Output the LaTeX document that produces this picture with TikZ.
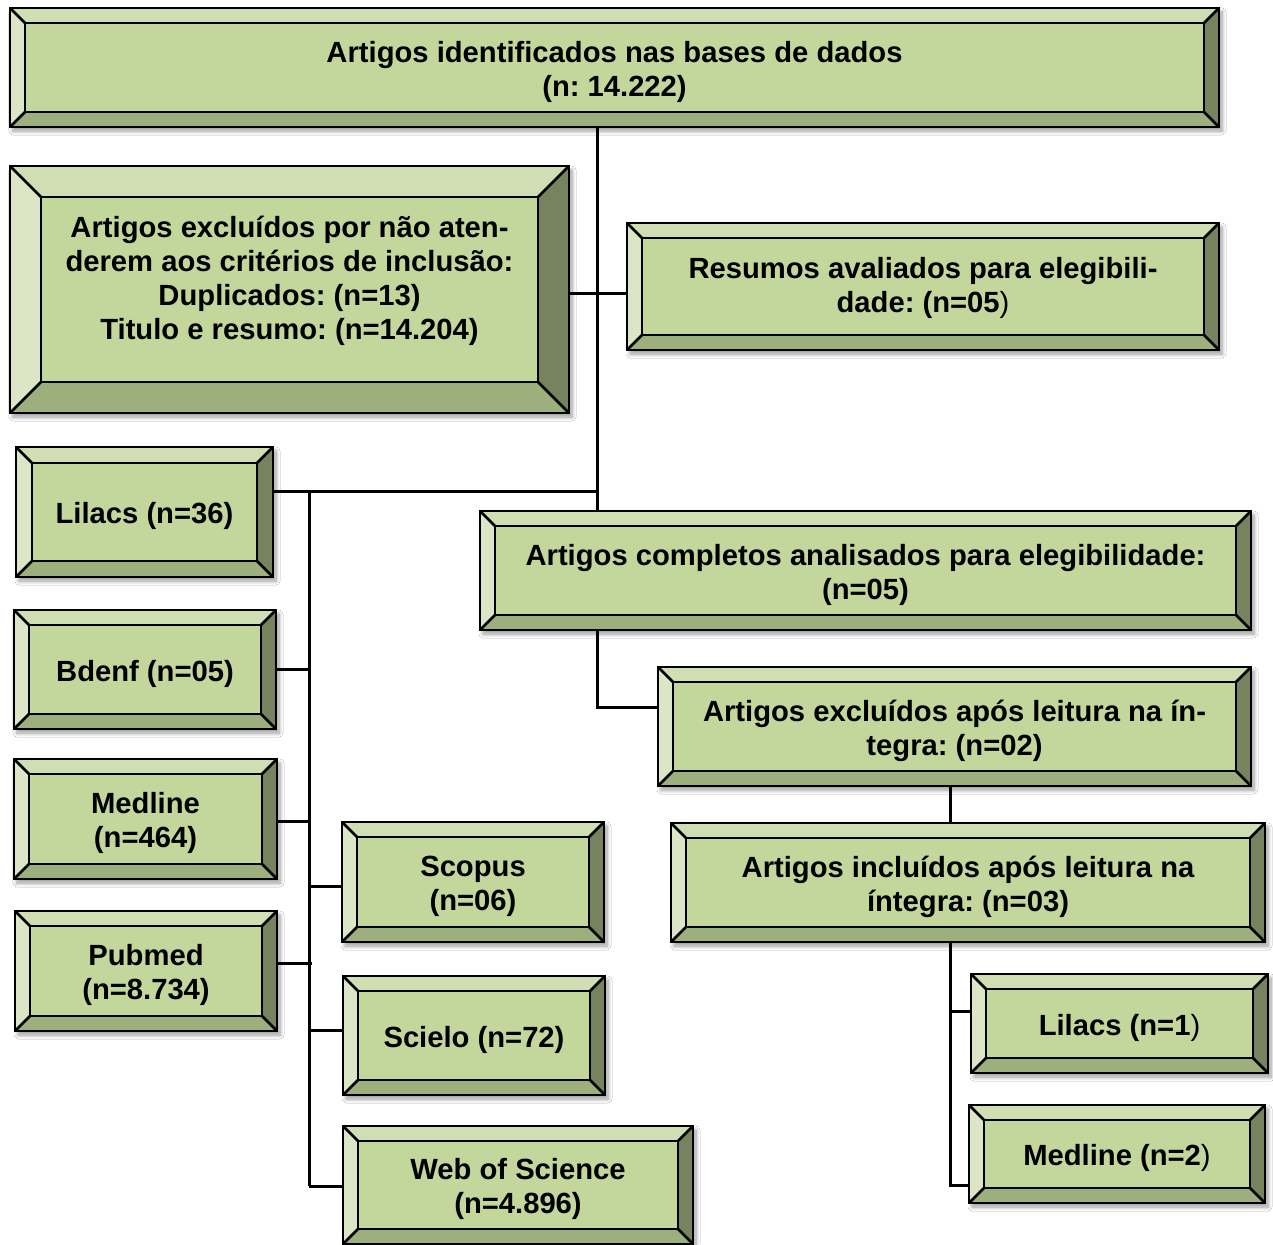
\documentclass[tikz,border=0pt]{standalone}
\usepackage{fontspec}
\setmainfont{Liberation Sans}
\usetikzlibrary{shadows.blur}
\definecolor{bvcenter}{HTML}{C3D69B}
\definecolor{bvtop}{HTML}{D0DFB3}
\definecolor{bvleft}{HTML}{DCE6C6}
\definecolor{bvbottom}{HTML}{9DAF7D}
\definecolor{bvright}{HTML}{76835E}
\tikzset{
  bvline/.style={draw=black, line width=2.6pt, line join=miter},
  boxnode/.style={inner sep=0pt, outer sep=0pt, rectangle},
  boxtext/.style={inner sep=0pt, align=center, yshift=-4pt, font=\fontsize{29.2}{34}\selectfont\bfseries\frenchspacing},
  conn/.style={draw=black, line width=3pt},
  shadowed/.style={blur shadow={shadow xshift=3pt, shadow yshift=-4pt, shadow blur radius=4pt, shadow blur steps=8, shadow opacity=40}}
}
% #1 text options, #2 name, #3 x1, #4 y1, #5 x2, #6 y2, #7 bevel, #8 text
\newcommand\bevbox[8][]{%
  \fill[white, shadowed] (#3,#4) rectangle (#5,#6);
  \fill[bvtop] (#3,#4) -- (#5,#4) -- (#5-#7,#4+#7) -- (#3+#7,#4+#7) -- cycle;
  \fill[bvbottom] (#3,#6) -- (#5,#6) -- (#5-#7,#6-#7) -- (#3+#7,#6-#7) -- cycle;
  \fill[bvleft] (#3,#4) -- (#3+#7,#4+#7) -- (#3+#7,#6-#7) -- (#3,#6) -- cycle;
  \fill[bvright] (#5,#4) -- (#5-#7,#4+#7) -- (#5-#7,#6-#7) -- (#5,#6) -- cycle;
  \fill[bvcenter] (#3+#7,#4+#7) rectangle (#5-#7,#6-#7);
  \draw[bvline] (#3,#4) -- (#3+#7,#4+#7) (#5,#4) -- (#5-#7,#4+#7)
     (#3,#6) -- (#3+#7,#6-#7) (#5,#6) -- (#5-#7,#6-#7);
  \draw[bvline] (#3+#7,#4+#7) rectangle (#5-#7,#6-#7);
  \draw[bvline] (#3,#4) rectangle (#5,#6);
  \node[boxnode, minimum width={#5pt-#3pt}, minimum height={#6pt-#4pt}] (#2) at ({(#3+#5)/2},{(#4+#6)/2}) {};
  \node[boxtext,#1] (#2-t) at (#2) {#8};
}
\begin{document}
\begin{tikzpicture}[x=1pt,y=-1pt]
\useasboundingbox (0,0) rectangle (1273,1244);
\fill[white] (0,0) rectangle (1273,1244);

\coordinate (v1) at (597,127);
\coordinate (bus) at (309,491);
\coordinate (v2) at (950,0);

\bevbox{top}{10}{8}{1219}{127}{15}{Artigos identificados nas bases de dados\\(n: 14.222)}
\bevbox[yshift=13pt]{excl}{10}{166}{569}{413}{31}{Artigos excluídos por não aten-\\derem aos critérios de inclusão:\\Duplicados: (n=13)\\Titulo e resumo: (n=14.204)}
\bevbox[yshift=3pt]{res}{627}{223}{1219}{350}{15}{Resumos avaliados para elegibili-\\dade: (n=05{\mdseries)}}
\bevbox{lil}{16}{447}{273}{577}{16}{Lilacs (n=36)}
\bevbox{bdenf}{14}{610}{276}{729}{15}{Bdenf (n=05)}
\bevbox{med}{14}{759}{277}{879}{15}{Medline\\(n=464)}
\bevbox{pub}{15}{911}{277}{1031}{15}{Pubmed\\(n=8.734)}
\bevbox{scop}{342}{822}{604}{942}{15}{Scopus\\(n=06)}
\bevbox{sci}{343}{976}{605}{1095}{15}{Scielo (n=72)}
\bevbox{wos}{343}{1126}{693}{1244}{15}{Web of Science\\(n=4.896)}
\bevbox{comp}{480}{511}{1251}{630}{15}{Artigos completos analisados para elegibilidade:\\(n=05)}
\bevbox{exc2}{658}{667}{1251}{786}{15}{Artigos excluídos após leitura na ín-\\tegra: (n=02)}
\bevbox{inc}{671}{823}{1265}{942}{15}{Artigos incluídos após leitura na\\íntegra: (n=03)}
\bevbox{lil1}{971}{974}{1268}{1073}{15}{Lilacs (n=1{\mdseries)}}
\bevbox{med2}{969}{1105}{1265}{1203}{15}{Medline (n=2{\mdseries)}}

\draw[conn] (v1 |- top.south) -- (v1 |- comp.north);
\draw[conn] (excl.east |- 0,293) -- (res.west |- 0,293);
\draw[conn] (lil.east |- bus) -- (v1 |- bus);
\draw[conn] (bus) -- (bus |- 0,1186);
\draw[conn] (bdenf.east) -- (bus |- bdenf.east);
\draw[conn] (med.east |- 0,821) -- (bus |- 0,821);
\draw[conn] (pub.east |- 0,963) -- (312,963);
\draw[conn] (bus |- 0,886) -- (scop.west |- 0,886);
\draw[conn] (bus |- 0,1030) -- (sci.west |- 0,1030);
\draw[conn] (bus |- 0,1186) -- (wos.west |- 0,1186);
\draw[conn] (v1 |- comp.south) -- (v1 |- 0,707) -- (exc2.west |- 0,707);
\draw[conn] (v2 |- exc2.south) -- (v2 |- inc.north);
\draw[conn] (v2 |- inc.south) -- (v2 |- 0,1185) -- (med2.west |- 0,1185);
\draw[conn] (v2 |- 0,1011) -- (lil1.west |- 0,1011);
\end{tikzpicture}
\end{document}
